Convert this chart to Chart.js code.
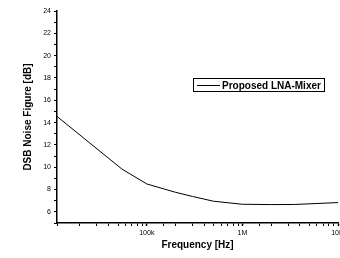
<!DOCTYPE html>
<html>
<head>
<meta charset="utf-8">
<script src="https://cdn.jsdelivr.net/npm/chart.js@4/dist/chart.umd.min.js"></script>
<style>
  html, body { margin: 0; padding: 0; background: #fff; overflow: hidden; }
  #wrap { width: 350px; height: 258px; }
</style>
</head>
<body>
<div id="wrap"><canvas id="noiseChart" width="350" height="258"></canvas></div>
<script>
const frequencies = [11500, 55000, 100000, 200000, 300000, 500000, 1000000, 2000000, 3500000, 10000000];
const noiseFigure = [14.55, 9.83, 8.5, 7.75, 7.38, 6.95, 6.68, 6.65, 6.66, 6.83];
const xLabels = { 100000: '100k', 1000000: '1M', 10000000: '10M' };
const seriesLabel = 'Proposed LNA-Mixer';

const font = "'Liberation Sans', Arial, sans-serif";

const legendBox = {
  id: 'legendBox',
  afterDraw(chart) {
    const ctx = chart.ctx;
    ctx.save();
    ctx.strokeStyle = '#000';
    ctx.lineWidth = 1;
    ctx.strokeRect(193.5, 78.5, 131, 13);
    ctx.beginPath();
    ctx.moveTo(197, 85.5);
    ctx.lineTo(220, 85.5);
    ctx.stroke();
    ctx.fillStyle = '#000';
    ctx.font = 'bold 10px ' + font;
    ctx.textBaseline = 'middle';
    ctx.fillText(chart.data.datasets[0].label, 222, 86);
    ctx.restore();
  }
};

new Chart(document.getElementById('noiseChart'), {
  type: 'line',
  data: {
    datasets: [{
      label: seriesLabel,
      data: frequencies.map((f, i) => ({ x: f, y: noiseFigure[i] })),
      borderColor: '#000',
      borderWidth: 1,
      pointRadius: 0,
      tension: 0,
      fill: false
    }]
  },
  options: {
    responsive: false,
    animation: false,
    layout: { padding: { top: 11, right: 12, left: 0, bottom: 0 } },
    plugins: {
      legend: { display: false },
      tooltip: { enabled: false }
    },
    scales: {
      x: {
        type: 'logarithmic',
        min: 11500,
        max: 10000000,
        afterFit: (scale) => { scale.height = 35; },
        border: { color: '#000', width: 1.5 },
        grid: {
          drawOnChartArea: false,
          drawTicks: true,
          tickLength: 3,
          tickColor: '#000',
          tickWidth: (ctx) => (ctx.tick && xLabels[ctx.tick.value] ? 1.5 : 1)
        },
        ticks: {
          autoSkip: false,
          maxRotation: 0,
          color: '#000',
          padding: 3,
          font: { family: font, size: 7 },
          callback: (value) => xLabels[value] || ''
        },
        title: {
          display: true,
          text: 'Frequency [Hz]',
          color: '#000',
          padding: { top: 2, bottom: 7 },
          font: { family: font, size: 10, weight: 'bold' }
        }
      },
      y: {
        min: 5,
        max: 24,
        afterFit: (scale) => { scale.width = 57; },
        border: { color: '#000', width: 1.5 },
        grid: {
          drawOnChartArea: false,
          drawTicks: true,
          tickLength: 3,
          tickColor: '#000'
        },
        ticks: {
          stepSize: 1,
          autoSkip: false,
          color: '#000',
          padding: 3,
          font: { family: font, size: 7 },
          callback: (value) => (value % 2 === 0 ? value : '')
        },
        title: {
          display: true,
          text: 'DSB Noise Figure [dB]',
          color: '#000',
          padding: { top: 22, bottom: 0 },
          font: { family: font, size: 10, weight: 'bold' }
        }
      }
    }
  },
  plugins: [legendBox]
});
</script>
</body>
</html>
